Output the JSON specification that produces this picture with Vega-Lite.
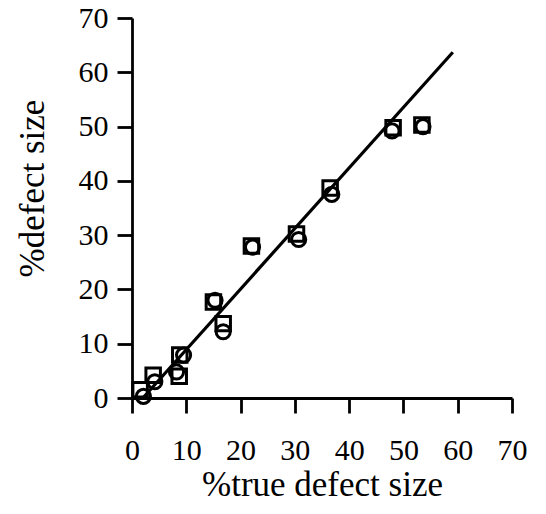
{
  "$schema": "https://vega.github.io/schema/vega-lite/v6.json",
  "width": 380,
  "height": 380,
  "autosize": {"type": "none"},
  "padding": {"left": 132, "top": 18, "right": 34, "bottom": 116},
  "background": "white",
  "config": {
    "view": {"stroke": null},
    "font": "Liberation Serif",
    "axis": {
      "grid": false,
      "domainColor": "black",
      "domainWidth": 2.8,
      "tickColor": "black",
      "tickWidth": 2.8,
      "tickSize": 15,
      "labelFont": "Liberation Serif",
      "labelFontSize": 30,
      "labelColor": "black",
      "labelFlush": false,
      "labelOverlap": false,
      "labelBound": false,
      "titleFont": "Liberation Serif",
      "titleFontSize": 35,
      "titleFontWeight": "normal",
      "titleColor": "black"
    }
  },
  "datasets": {
    "points": [
      {"series": "square", "x": 1.5, "y": 1.5},
      {"series": "square", "x": 3.9, "y": 4.2},
      {"series": "square", "x": 8.7, "y": 4.0},
      {"series": "square", "x": 8.8, "y": 7.9},
      {"series": "square", "x": 15.0, "y": 17.7},
      {"series": "square", "x": 16.8, "y": 13.7},
      {"series": "square", "x": 22.0, "y": 28.0},
      {"series": "square", "x": 30.3, "y": 30.2},
      {"series": "square", "x": 36.5, "y": 38.7},
      {"series": "square", "x": 48.1, "y": 49.8},
      {"series": "square", "x": 53.4, "y": 50.3},
      {"series": "circle", "x": 2.1, "y": 0.3},
      {"series": "circle", "x": 4.2, "y": 3.0},
      {"series": "circle", "x": 8.2, "y": 4.8},
      {"series": "circle", "x": 9.5, "y": 7.9},
      {"series": "circle", "x": 15.3, "y": 18.0},
      {"series": "circle", "x": 16.8, "y": 12.2},
      {"series": "circle", "x": 22.2, "y": 27.8},
      {"series": "circle", "x": 30.7, "y": 29.2},
      {"series": "circle", "x": 36.8, "y": 37.5},
      {"series": "circle", "x": 47.9, "y": 49.2},
      {"series": "circle", "x": 53.6, "y": 50.0}
    ],
    "fit": [
      {"x": 2.0, "y": 0.0},
      {"x": 59.1, "y": 63.7}
    ]
  },
  "layer": [
    {
      "data": {"name": "fit"},
      "mark": {"type": "line", "color": "black", "strokeWidth": 3.2},
      "encoding": {
        "x": {
          "field": "x",
          "type": "quantitative",
          "scale": {"domain": [0, 70], "nice": false},
          "axis": {
            "values": [0, 10, 20, 30, 40, 50, 60, 70],
            "labelPadding": 22,
            "title": "%true defect size",
            "titleBaseline": "alphabetic",
            "titleY": 97
          }
        },
        "y": {
          "field": "y",
          "type": "quantitative",
          "scale": {"domain": [0, 70], "nice": false},
          "axis": {
            "values": [0, 10, 20, 30, 40, 50, 60, 70],
            "labelPadding": 9,
            "title": "%defect size",
            "titleBaseline": "alphabetic",
            "titleAlign": "center",
            "titleAngle": -90,
            "titleX": -89,
            "titleY": 170
          }
        }
      }
    },
    {
      "data": {"name": "points"},
      "mark": {"type": "point", "filled": false, "strokeWidth": 3, "color": "black", "opacity": 1},
      "encoding": {
        "x": {"field": "x", "type": "quantitative"},
        "y": {"field": "y", "type": "quantitative"},
        "shape": {
          "field": "series",
          "type": "nominal",
          "scale": {"domain": ["square", "circle"], "range": ["square", "circle"]},
          "legend": null
        },
        "size": {
          "field": "series",
          "type": "nominal",
          "scale": {"domain": ["square", "circle"], "range": [210, 200]},
          "legend": null
        }
      }
    }
  ]
}
